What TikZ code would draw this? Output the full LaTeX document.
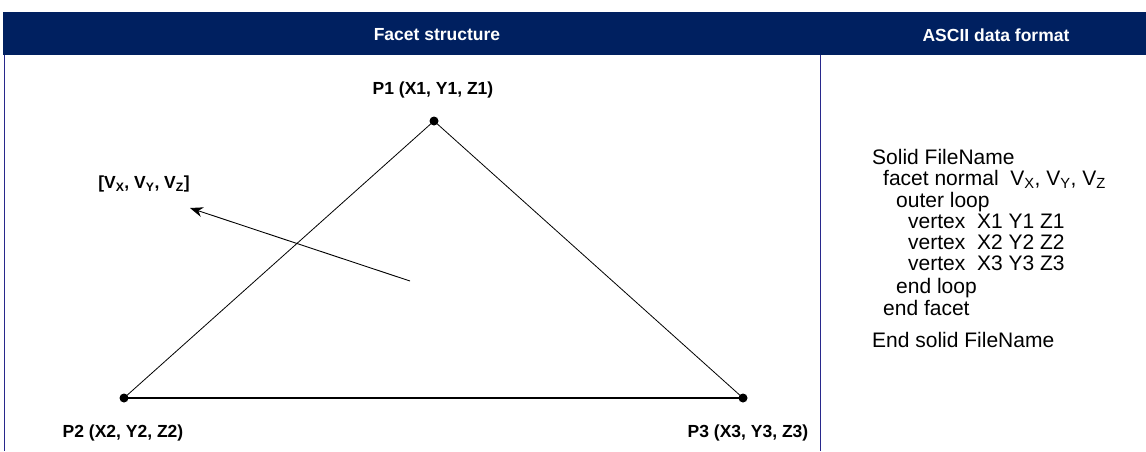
\documentclass[tikz,border=0pt]{standalone}
\usepackage{fontspec}
\setmainfont{Liberation Sans}
\usetikzlibrary{arrows.meta}
\definecolor{headblue}{RGB}{0,32,96}
\definecolor{rulecol}{RGB}{40,40,140}
\begin{document}
\begin{tikzpicture}[x=1pt,y=-1pt,
    ptlabel/.style={font=\bfseries\fontsize{17.5}{20}\selectfont},
    headtext/.style={text=white,font=\bfseries\fontsize{17.5}{20}\selectfont},
    codeline/.style={anchor=base west,inner sep=0pt,font=\fontsize{21}{24}\selectfont}]
    \useasboundingbox (0,0) rectangle (1146,451);
    % header bar
    \fill[headblue] (3,12) rectangle (1146,55);
    \node[headtext] (facethead) at (437,35) {Facet structure};
    \node[headtext] (asciihead) at (996,35) {ASCII data format};
    \draw[rulecol] (4,55) -- (4,451);
    \draw[rulecol] (820,55) -- (820,451);
    % facet
    \coordinate (P1) at (434,121);
    \coordinate (P2) at (124,398);
    \coordinate (P3) at (743,398);
    \coordinate (Ntail) at (410,281);
    \coordinate (Nhead) at (190,208);
    \draw[line width=0.8] (P3) -- (P1) -- (P2);
    \draw[line width=1.6] (P2) -- (P3);
    \draw[line width=0.9,-{Stealth[length=13,width=10]}] (Ntail) -- (Nhead);
    \fill (P1) circle (4.5);
    \fill (P2) circle (4.5);
    \fill (P3) circle (4.5);
    \node[ptlabel] (p1lbl) at (433,90) {P1 (X1, Y1, Z1)};
    \node[ptlabel] (p2lbl) at (123,433) {P2 (X2, Y2, Z2)};
    \node[ptlabel] (p3lbl) at (748,433) {P3 (X3, Y3, Z3)};
    \node[ptlabel] (nlbl) at (144,184) {[V\textsubscript{X}, V\textsubscript{Y}, V\textsubscript{Z}]};
    % ascii listing
    \node[codeline] (c1) at (872,164) {Solid FileName};
    \node[codeline] (c2) at (883,185) {facet normal\ \ V\textsubscript{X}, V\textsubscript{Y}, V\textsubscript{Z}};
    \node[codeline] (c3) at (896,207) {outer loop};
    \node[codeline] (c4) at (908,228) {vertex\ \ X1 Y1 Z1};
    \node[codeline] (c5) at (908,249) {vertex\ \ X2 Y2 Z2};
    \node[codeline] (c6) at (908,270) {vertex\ \ X3 Y3 Z3};
    \node[codeline] (c7) at (896,293) {end loop};
    \node[codeline] (c8) at (883,315) {end facet};
    \node[codeline] (c9) at (872,347) {End solid FileName};
\end{tikzpicture}
\end{document}
